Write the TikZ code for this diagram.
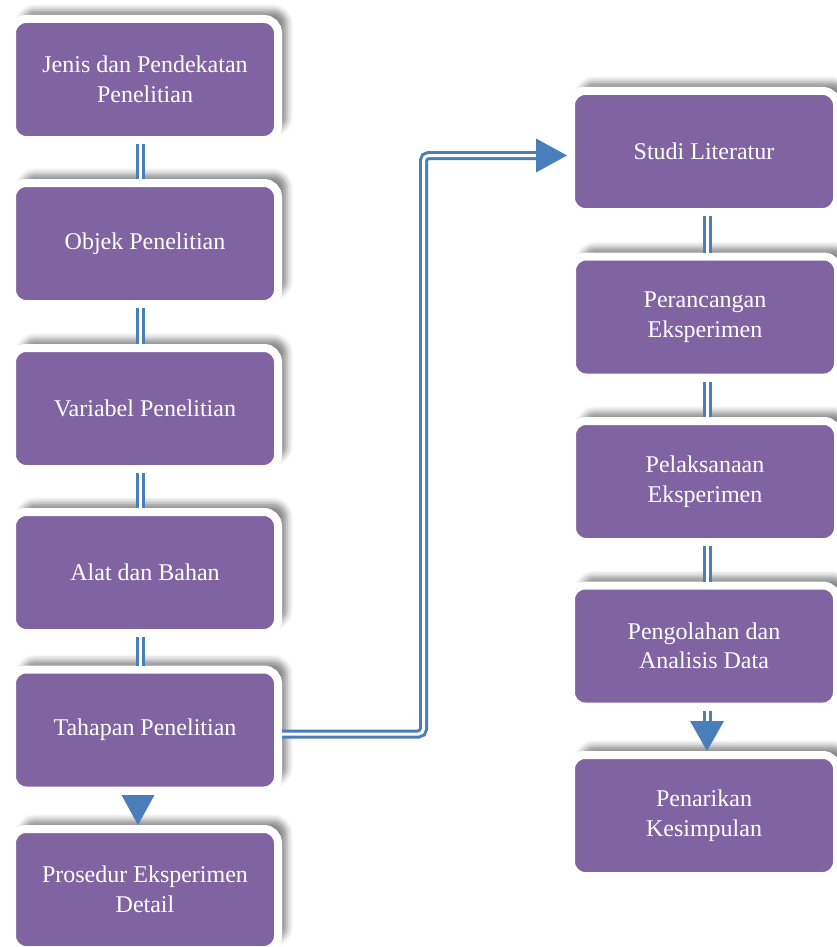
\documentclass[tikz,border=0pt]{standalone}
\usepackage{fontspec}
\setmainfont{Liberation Serif}
\usetikzlibrary{shadows.blur,arrows.meta}
\definecolor{boxpurple}{RGB}{128,100,162}
\definecolor{linkblue}{RGB}{74,126,187}
\tikzset{
  stepbox/.style={rectangle, rounded corners=14pt, fill=boxpurple, draw=white,
    line width=8pt, minimum width=266pt, minimum height=121pt, text=white,
    font=\fontsize{24}{29.5}\selectfont, align=center, inner sep=0pt,
    blur shadow={shadow xshift=9pt, shadow yshift=9pt, shadow blur radius=6pt, shadow opacity=45}},
  dbl/.style={draw=linkblue, double=white, double distance=3pt, line width=3pt},
  headfill/.style={fill=linkblue},
}
\begin{document}
\begin{tikzpicture}[x=1pt,y=1pt]
\useasboundingbox (0,0) rectangle (837,-947);
% left column
\node[stepbox] (l1) at (145,-79.5) {Jenis dan Pendekatan\\Penelitian};
\node[stepbox] (l2) at (145,-243.5) {Objek Penelitian};
\node[stepbox] (l3) at (145,-408.5) {Variabel Penelitian};
\node[stepbox] (l4) at (145,-572.5) {Alat dan Bahan};
\node[stepbox] (l5) at (145,-730) {Tahapan Penelitian};
\node[stepbox] (l6) at (145,-889.5) {Prosedur Eksperimen\\Detail};
% right column
\node[stepbox] (r1) at (704,-151.5) {Studi Literatur};
\node[stepbox] (r2) at (705,-317) {Perancangan\\Eksperimen};
\node[stepbox] (r3) at (705,-481.5) {Pelaksanaan\\Eksperimen};
\node[stepbox] (r4) at (704,-646) {Pengolahan dan\\Analisis Data};
\node[stepbox] (r5) at (704,-815.5) {Penarikan\\Kesimpulan};
% connectors left
\foreach \a/\b in {l1/l2,l2/l3,l3/l4,l4/l5}
  \draw[dbl] ([xshift=-5pt]\a.south) -- ([xshift=-5pt]\b.north);
% connectors right (vertical at x = 707)
\foreach \a/\b in {r1/r2,r2/r3,r3/r4}
  \draw[dbl] (\a.south -| 707,0) -- (\b.north -| 707,0);
% arrow l5 -> l6
\draw[dbl] ([xshift=-7pt]l5.south) -- ([xshift=-7pt,yshift=28pt]l6.north);
\fill[headfill] ([xshift=-7pt]l6.north) -- ++(-16.5,30) -- ++(33,0) -- cycle;
% arrow r4 -> r5
\draw[dbl] ([xshift=3pt]r4.south) -- ([xshift=3pt,yshift=29pt]r5.north);
\fill[headfill] ([xshift=3pt]r5.north) -- ++(-17,30) -- ++(34,0) -- cycle;
% main connector l5 -> r1
\coordinate (bend) at (423.5,-445);
\draw[dbl, rounded corners=5pt] ([yshift=-4pt]l5.east) -| (bend) |- ([xshift=-30pt,yshift=-4pt]r1.west);
\fill[headfill] ([yshift=-4pt]r1.west) -- ++(-31,17) -- ++(0,-34) -- cycle;
\end{tikzpicture}
\end{document}
